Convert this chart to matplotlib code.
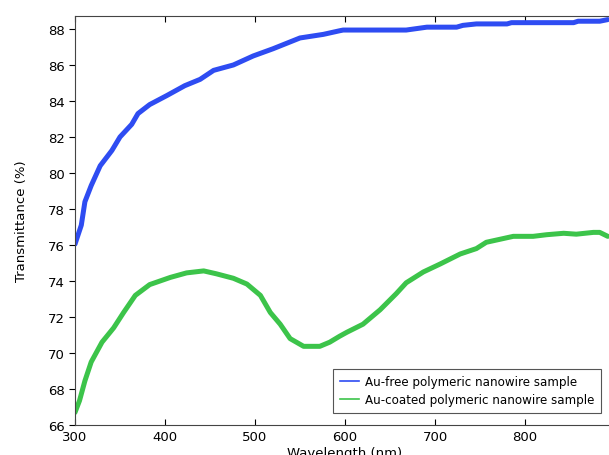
import matplotlib
matplotlib.use("Agg")
import matplotlib.pyplot as plt

# wavelengths (nm) and transmittance (%)
wl_free = [300, 307, 311, 318, 328, 341, 350, 363, 370, 383, 402, 422, 439, 454,
           476, 498, 520, 550, 576, 594, 598, 668, 691, 724, 731, 746, 780, 785,
           854, 859, 883, 892]
t_free = [76.05, 77.1, 78.4, 79.3, 80.4, 81.25, 82.0, 82.7, 83.3, 83.8, 84.3,
          84.85, 85.2, 85.7, 86.0, 86.5, 86.9, 87.5, 87.7, 87.9, 87.94, 87.94,
          88.1, 88.1, 88.2, 88.28, 88.28, 88.35, 88.35, 88.43, 88.43, 88.52]

wl_coated = [300, 305, 311, 318, 330, 343, 354, 367, 383, 406, 424, 443, 457,
             476, 491, 506, 517, 528, 539, 554, 572, 583, 594, 602, 620, 639,
             657, 668, 687, 706, 728, 746, 757, 787, 809, 824, 843, 857, 876,
             883, 892]
t_coated = [66.7, 67.35, 68.45, 69.5, 70.6, 71.4, 72.25, 73.2, 73.8, 74.2,
            74.45, 74.56, 74.4, 74.15, 73.83, 73.2, 72.25, 71.6, 70.8, 70.37,
            70.37, 70.6, 70.93, 71.15, 71.6, 72.4, 73.3, 73.9, 74.5, 74.95,
            75.5, 75.8, 76.15, 76.48, 76.48, 76.57, 76.65, 76.6, 76.7, 76.7,
            76.48]

labels = ["Au-free polymeric nanowire sample", "Au-coated polymeric nanowire sample"]
colors = ["#2e4cf2", "#3cc44a"]

fig = plt.figure(figsize=(6.09, 4.56), dpi=100)
ax = fig.add_axes([75 / 609, 30 / 456, 540 / 609, 409 / 456])

ax.plot(wl_free, t_free, color=colors[0], lw=3.6, solid_capstyle="round",
        solid_joinstyle="round")
ax.plot(wl_coated, t_coated, color=colors[1], lw=3.6, solid_capstyle="round",
        solid_joinstyle="round")

ax.set_xlim(300, 900)
ax.set_ylim(66, 88.72)
ax.set_xticks([300, 400, 500, 600, 700, 800])
ax.set_yticks(range(66, 89, 2))
ax.tick_params(axis="x", direction="in", top=True, labelsize=9.5, length=4)
ax.tick_params(axis="y", direction="out", labelsize=9.5, length=4)
for s in ax.spines.values():
    s.set_color("#444444")

ax.set_xlabel("Wavelength (nm)", fontsize=9.5, labelpad=2)
ax.set_ylabel("Transmittance (%)", fontsize=9.5, labelpad=14)

handles = [plt.Line2D([], [], color=c, lw=1.2) for c in colors]
leg = ax.legend(handles, labels, loc="lower right", fontsize=8.6,
                bbox_to_anchor=(607 / 609, 36 / 456), bbox_transform=fig.transFigure,
                fancybox=False, edgecolor="#555555", framealpha=1,
                handlelength=1.6, handletextpad=0.5, borderpad=0.55,
                labelspacing=0.45)
leg.get_frame().set_linewidth(0.8)

fig.savefig("out.png", dpi=100)
